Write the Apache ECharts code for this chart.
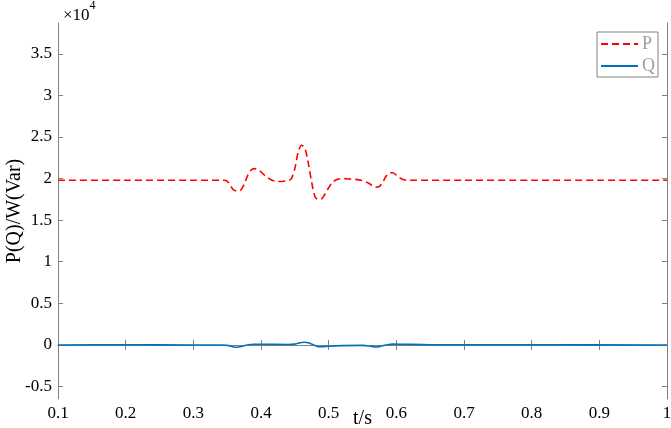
<!DOCTYPE html>
<html>
<head>
<meta charset="utf-8">
<script src="https://cdn.jsdelivr.net/npm/echarts@6/dist/echarts.min.js"></script>
<style>html,body{margin:0;padding:0;background:#fff}#c{width:671px;height:428px}</style>
</head>
<body>
<div id="c"></div>
<script>
// values in units of 10^4 (W / Var)
const tP = [0.10,0.20,0.30,0.345,0.350,0.355,0.360,0.365,0.370,0.375,0.380,0.385,0.390,0.395,0.400,0.405,0.410,0.415,0.420,0.425,0.430,0.435,0.440,0.445,0.450,0.455,0.460,0.465,0.470,0.475,0.480,0.485,0.490,0.495,0.500,0.505,0.510,0.515,0.520,0.530,0.540,0.550,0.555,0.560,0.565,0.570,0.575,0.580,0.585,0.590,0.595,0.600,0.605,0.610,0.615,0.620,0.700,0.800,0.900,1.00];
const P  = [1.98,1.98,1.98,1.98,1.97,1.91,1.86,1.85,1.86,1.93,2.03,2.10,2.12,2.11,2.08,2.04,2.01,1.985,1.97,1.965,1.965,1.97,1.975,2.00,2.12,2.32,2.40,2.36,2.18,1.95,1.78,1.75,1.76,1.82,1.89,1.95,1.98,1.995,2.00,1.995,1.99,1.975,1.96,1.94,1.91,1.895,1.905,1.96,2.03,2.07,2.07,2.04,2.01,1.99,1.98,1.98,1.98,1.98,1.98,1.98];
const tQ = [0.10,0.20,0.30,0.34,0.35,0.36,0.365,0.37,0.38,0.39,0.40,0.44,0.45,0.46,0.465,0.47,0.478,0.485,0.49,0.50,0.52,0.55,0.56,0.57,0.575,0.585,0.595,0.61,0.65,0.80,1.00];
const Q  = [0,0.002,0,0,-0.005,-0.025,-0.028,-0.02,0,0.008,0.008,0.005,0.01,0.03,0.032,0.025,0,-0.022,-0.022,-0.015,-0.008,-0.005,-0.012,-0.025,-0.02,0,0.01,0.008,0.003,0.002,0];
const xTicks = [0.1,0.2,0.3,0.4,0.5,0.6,0.7,0.8,0.9,1];
const yTicks = [-0.5,0,0.5,1,1.5,2,2.5,3,3.5];

const font = '"Liberation Serif","Times New Roman",serif';
const axisCol = '#808080';
const fmt = v => { const r = Math.round(v*10)/10; return String(r); };

const chart = echarts.init(document.getElementById('c'), null, {renderer:'canvas'});
const xBase = {
  type:'value', min:0.1, max:1,
  axisLine:{show:true, lineStyle:{color:axisCol, width:1}},
  axisTick:{show:true, inside:true, length:5, customValues:xTicks, lineStyle:{color:axisCol}},
  splitLine:{show:false}
};
const yBase = {
  type:'value', min:-0.65, max:3.87,
  axisLine:{show:true, lineStyle:{color:axisCol, width:1}},
  axisTick:{show:true, inside:true, length:5, customValues:yTicks, lineStyle:{color:axisCol}},
  splitLine:{show:false}
};
chart.setOption({
  animation:false,
  backgroundColor:'#fff',
  grid:{left:58, right:4, top:23, bottom:29, containLabel:false, outerBoundsMode:'none'},
  title:{
    left:58, top:-5,
    text:'{a|×10}{b|4}',
    textStyle:{fontWeight:'normal', rich:{
      a:{fontFamily:font, fontSize:17, fontWeight:'normal', color:'#000', verticalAlign:'bottom', padding:[7,0,0,0]},
      b:{fontFamily:font, fontSize:12, fontWeight:'normal', color:'#000', verticalAlign:'top'}
    }}
  },
  legend:{
    orient:'vertical', right:13, top:32,
    backgroundColor:'#fff', borderColor:axisCol, borderWidth:1,
    padding:[3,3,2,3], itemGap:4, itemWidth:37, itemHeight:12,
    itemStyle:{opacity:0},
    textStyle:{fontFamily:font, fontSize:18, color:'#a0a0a0', padding:[0,0,0,-1]},
    data:['P','Q']
  },
  xAxis:[
    Object.assign({}, xBase, {
      position:'bottom',
      axisLabel:{customValues:xTicks, formatter:fmt, fontFamily:font, fontSize:17, color:'#000', margin:6},
      name:'t/s', nameLocation:'middle', nameGap:10, nameMoveOverlap:false,
      nameTextStyle:{fontFamily:font, fontSize:20, color:'#000', verticalAlign:'top'}
    }),
    Object.assign({}, xBase, {position:'top', axisLabel:{show:false}})
  ],
  yAxis:[
    Object.assign({}, yBase, {
      position:'left',
      axisLabel:{customValues:yTicks, formatter:fmt, fontFamily:font, fontSize:17, color:'#000', margin:6},
      name:'P(Q)/W(Var)', nameLocation:'middle', nameGap:43, nameRotate:90, nameMoveOverlap:false,
      nameTextStyle:{fontFamily:font, fontSize:20, color:'#000', verticalAlign:'middle'}
    }),
    Object.assign({}, yBase, {position:'right', axisLabel:{show:false}})
  ],
  series:[
    {name:'P', type:'line', xAxisIndex:0, yAxisIndex:0, data:tP.map((t,i)=>[t,P[i]]),
     smooth:0.3, symbol:'none', lineStyle:{color:'#ff0000', width:1.6, type:[7,4]}, itemStyle:{color:'#ff0000'}},
    {name:'Q', type:'line', xAxisIndex:0, yAxisIndex:0, data:tQ.map((t,i)=>[t,Q[i]]),
     smooth:0.3, symbol:'none', lineStyle:{color:'#0072BD', width:1.6}, itemStyle:{color:'#0072BD'}}
  ]
});
</script>
</body>
</html>
